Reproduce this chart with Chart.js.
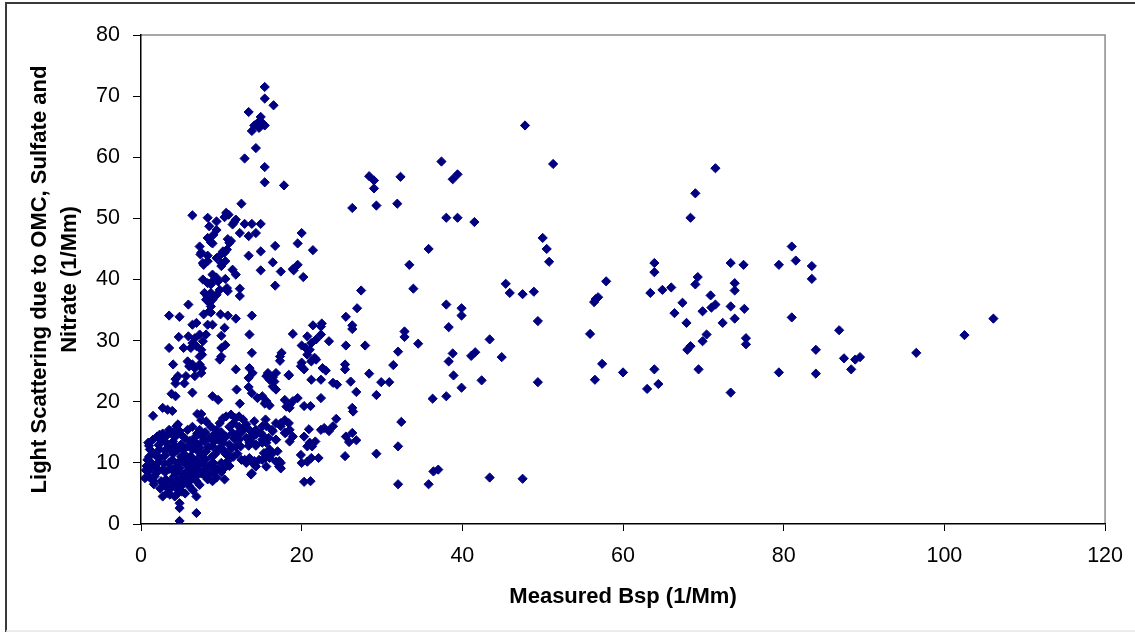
<!DOCTYPE html>
<html>
<head>
<meta charset="utf-8">
<title>Light scattering vs measured Bsp</title>
<script src="https://cdn.jsdelivr.net/npm/chart.js@4/dist/chart.umd.min.js"></script>
<style>
  html, body { margin: 0; padding: 0; background: #fff; }
  #chart { display: block; }
</style>
</head>
<body>
<canvas id="chart" width="1135" height="632"></canvas>
<script>
// [Measured Bsp, light scattering due to OMC + sulfate + nitrate], both in 1/Mm

// Right side, Bsp > 45
const highBsp = [
  [106.1,33.6],[102.5,30.9],[96.5,28.0],[89.5,27.3],[88.9,26.9],[88.4,25.3],[87.5,27.1],[86.9,31.7],
  [84.0,28.5],[84.0,24.6],[83.5,42.2],[83.5,40.1],[81.0,45.4],[81.5,43.1],[81.0,33.8],[79.4,42.4],
  [79.4,24.8],[75.0,42.4],[73.4,42.7],[73.9,39.4],[73.9,38.2],[75.1,35.2],[73.4,35.6],[73.9,33.6],
  [75.3,30.4],[75.3,29.4],[73.4,21.5],[72.4,32.9],[71.5,58.2],[71.5,35.9],[71.0,35.4],[70.9,37.4],
  [70.4,31.0],[69.9,34.8],[69.9,29.9],[69.4,25.3],[69.3,40.4],[69.0,39.2],[69.0,54.1],[68.4,50.1],
  [68.4,29.1],[68.0,28.5],[67.9,32.9],[67.4,36.2],[66.4,34.5],[66.0,38.7],[64.9,38.3],[63.9,42.7],
  [63.9,41.2],[63.4,37.8],[63.9,25.3],[64.4,22.9],[63.0,22.1],[60.0,24.8],[57.9,39.7],[57.4,26.2],
  [56.9,37.1],[56.6,36.8],[56.4,36.3],[56.5,23.6],[55.9,31.1],[51.3,58.9],[50.8,42.9],[50.5,45.0],
  [50.0,46.8],[49.4,33.2],[49.4,23.2],[48.9,38.0],[47.8,65.2],[47.5,37.6],[47.5,7.4],[45.9,37.8],
  [45.4,39.3]
];

// Bsp 25 - 45
const midBsp = [
  [44.9,27.3],[43.4,30.2],[43.4,7.6],[42.4,23.5],[41.5,49.4],[41.6,28.1],[41.1,27.5],[39.9,35.3],
  [39.9,34.1],[39.9,22.3],[39.4,57.2],[38.8,56.4],[39.4,50.1],[38.9,24.3],[38.8,27.9],[38.3,26.6],
  [38.3,32.2],[38.0,35.9],[38.0,50.1],[38.0,20.9],[37.4,59.3],[37.0,8.9],[36.4,8.6],[36.3,20.5],
  [35.8,45.0],[35.8,6.5],[34.5,29.5],[33.9,38.5],[33.4,42.4],[32.8,31.5],[32.8,30.6],[32.4,16.7],
  [32.3,56.8],[32.0,28.2],[32.0,12.7],[32.0,6.5],[31.9,52.4],[31.4,26.0],[30.9,23.2],[29.9,23.2],
  [29.3,52.1],[29.3,21.1],[29.3,11.5],[29.0,56.2],[28.4,56.9],[29.0,54.9],[28.4,24.6],[27.9,29.2],
  [27.4,38.2],[26.9,35.3],[26.8,21.6],[26.8,13.7],[26.3,51.7],[26.3,32.5],[26.3,31.9],[26.3,19.0],
  [26.4,18.4],[26.3,14.9],[25.9,13.4],[26.1,23.3],[25.5,33.9],[25.5,29.2],[25.4,26.1],[25.4,25.3],
  [25.5,14.3],[25.4,11.1]
];

// Bsp 14 - 25
const lowMidBsp = [
  [24.4,22.8],[23.9,23.1],[24.3,17.2],[23.9,16.0],[23.4,15.2],[22.8,15.7],[23.4,29.9],[23.0,25.1],
  [22.6,25.5],[22.4,23.6],[22.5,32.8],[22.4,32.3],[22.4,31.0],[22.4,20.6],[22.4,15.4],[21.4,32.5],
  [21.4,44.8],[21.8,30.2],[21.6,27.2],[21.8,26.9],[21.2,29.6],[21.0,28.5],[21.2,26.6],[21.2,23.6],
  [21.1,19.3],[21.7,13.5],[21.3,12.7],[22.1,10.8],[21.1,7.0],[20.7,10.2],[20.7,30.7],[20.5,28.8],
  [20.0,29.2],[20.7,27.7],[20.0,26.4],[19.9,25.8],[20.3,25.3],[20.0,47.6],[19.5,45.9],[20.2,40.4],
  [19.5,42.4],[19.0,41.5],[18.9,41.7],[18.9,31.1],[18.4,24.3],[20.3,19.3],[20.0,10.0],[21.2,10.8],
  [20.3,14.3],[21.0,13.3],[20.3,6.9],[20.9,15.5],[20.7,12.7],[19.9,11.3],[17.8,55.4],[17.3,27.4],
  [17.3,26.7],[17.5,28.0],[17.4,41.3],[16.4,42.8],[16.7,45.5],[16.7,39.0],[17.9,20.3],[18.1,19.2],
  [18.5,19.5],[18.9,20.1],[19.5,20.6],[18.5,19.0],[18.5,15.4],[18.9,14.3],[18.5,13.5],[17.9,14.9],
  [17.4,16.0],[16.8,16.5],[16.4,15.2],[18.0,14.9],[18.4,16.5],[17.4,16.5],[17.9,17.0],[17.4,10.0],
  [17.2,9.4],[16.8,10.2],[17.0,11.9],[17.4,9.1],[17.2,10.3],[16.8,13.8],[16.0,12.2],[16.4,11.6],
  [16.0,10.8],[15.6,11.3],[15.1,10.5],[15.6,9.4],[15.6,13.3],[15.1,14.6],[15.1,13.8],[15.6,16.0],
  [15.9,14.1],[15.3,11.6],[15.5,10.8],[15.5,17.1],[16.3,15.4],[15.6,24.2],[16.0,23.6],[16.4,24.0],
  [16.8,24.7],[16.6,23.3],[16.8,22.0],[16.4,22.5],[15.1,20.9],[15.6,20.1],[16.0,19.4],[15.4,19.7],
  [14.5,20.6],[15.8,24.7],[18.4,24.4]
];

// Upper-left spike, Bsp < 17 and scattering > 34
const spike = [
  [15.4,71.5],[15.4,69.6],[16.5,68.5],[13.4,67.4],[14.9,66.6],[14.5,65.6],[15.1,65.6],[15.4,65.2],
  [14.7,64.8],[14.1,65.2],[13.8,64.3],[14.3,61.5],[12.9,59.8],[15.4,58.4],[15.4,55.9],[12.5,52.4],
  [6.4,50.5],[10.6,50.9],[10.9,50.6],[10.4,50.2],[11.8,49.8],[11.4,49.0],[11.6,49.4],[12.9,49.1],
  [13.8,49.1],[14.9,49.1],[9.4,48.1],[9.0,47.3],[12.3,47.6],[13.4,47.1],[14.3,47.6],[8.3,46.8],
  [8.7,46.1],[8.9,45.9],[10.8,46.6],[11.2,46.3],[11.0,46.0],[10.7,44.9],[10.4,44.4],[9.8,43.9],
  [9.4,43.5],[10.2,44.6],[7.5,44.4],[8.3,43.9],[14.9,44.6],[13.4,43.9],[7.7,42.7],[8.3,43.0],
  [10.0,42.7],[10.5,43.0],[10.0,42.2],[14.9,41.5],[11.4,41.6],[11.8,40.8],[9.4,40.3],[8.9,39.7],
  [8.7,39.2],[9.6,39.7],[10.5,40.1],[10.7,38.6],[10.8,38.1],[12.3,38.5],[12.3,37.3],[7.9,37.8],
  [8.3,37.2],[8.7,37.8],[8.1,36.7],[8.5,36.2],[8.9,36.7],[9.4,37.5],[8.7,35.6],[8.5,34.8],
  [5.9,35.9],[8.3,50.1],[9.4,49.5],[8.5,48.7],[7.3,45.4],[7.4,44.1],[7.8,42.4],[8.9,40.8],
  [7.7,40.0],[8.3,39.4],[9.8,38.3]
];

// Bsp < 15, scattering 17 - 35
const leftMiddle = [
  [3.5,34.1],[4.8,33.9],[7.8,34.3],[8.7,34.6],[9.9,34.3],[10.8,34.1],[11.8,33.6],[13.8,34.1],
  [6.4,32.6],[6.9,32.9],[8.3,32.6],[8.9,32.6],[10.4,32.1],[4.7,30.6],[5.9,30.7],[6.7,30.4],
  [7.3,31.0],[8.1,31.0],[7.7,29.9],[6.9,29.1],[6.4,29.6],[6.2,28.8],[10.0,30.8],[10.5,29.3],
  [10.0,28.8],[13.5,31.0],[3.5,28.8],[5.3,28.8],[7.5,28.5],[7.3,27.4],[7.6,27.7],[13.8,28.0],
  [4.0,26.1],[5.8,26.6],[6.0,25.8],[6.4,26.1],[6.7,25.5],[7.6,25.5],[7.3,26.1],[10.0,27.4],
  [9.8,26.9],[11.8,25.3],[13.5,25.5],[13.9,24.7],[13.4,23.9],[4.6,24.2],[5.6,24.2],[6.7,24.2],
  [7.5,24.7],[4.3,23.7],[5.4,23.0],[4.3,23.0],[6.4,21.5],[3.8,21.3],[4.3,20.9],[8.9,20.9],
  [9.6,20.3],[2.7,19.0],[3.3,18.7],[3.9,18.5],[1.5,17.7],[11.9,22.0],[12.3,19.7],[13.4,22.4],
  [13.8,21.4],[7.0,18.0],[7.5,17.0],[4.4,16.0],[4.8,15.2]
];

// Dense cluster near the origin
const lowCluster = [
  [4.8,0.5],[4.8,3.4],[4.8,2.6],[6.9,1.8],[6.9,4.5],[2.7,4.5],[3.3,5.1],[0.9,8.6],[1.1,7.6],
  [1.7,7.8],[1.5,7.1],[0.7,9.5],[1.3,10.0],[0.9,13.3],[1.5,13.8],[2.0,14.3],[2.3,14.6],[2.7,14.8],
  [3.3,14.6],[1.1,12.2],[1.7,11.4],[2.3,12.2],[2.3,10.8],[2.7,8.9],[3.1,7.3],[3.1,6.2],[3.5,5.6],
  [3.7,7.0],[4.1,7.8],[4.4,6.7],[4.6,5.6],[5.0,6.2],[5.4,7.0],[5.2,8.1],[5.8,7.8],[6.2,7.3],
  [6.0,6.2],[6.4,8.9],[6.9,7.8],[7.3,6.4],[6.9,7.0],[3.5,10.0],[3.9,10.5],[4.6,10.0],[5.2,10.3],
  [4.8,9.1],[5.6,9.7],[6.0,10.5],[3.9,8.9],[4.4,9.4],[6.2,9.7],[6.9,10.5],[7.7,10.0],[8.1,9.1],
  [8.5,8.1],[7.5,8.3],[8.3,7.3],[9.4,7.6],[10.4,7.3],[8.9,7.0],[7.9,8.6],[4.6,16.3],[5.8,15.4],
  [6.4,15.9],[7.3,15.4],[7.5,18.0],[8.1,16.8],[8.7,15.9],[9.4,15.4],[9.8,16.5],[10.2,17.3],
  [10.6,17.6],[11.2,17.9],[11.8,17.3],[12.2,17.6],[12.7,17.1],[13.1,16.3],[13.5,15.4],[13.9,14.6],
  [14.3,15.4],[14.9,14.9],[15.1,16.0],[14.1,16.8],[12.2,15.9],[11.0,15.9],[11.4,14.9],[10.6,14.3],
  [9.6,13.8],[10.2,13.3],[8.9,12.7],[8.5,14.1],[7.9,13.5],[7.1,13.0],[6.4,12.2],[5.8,12.7],
  [5.4,11.4],[6.2,11.1],[7.1,11.9],[8.1,11.9],[9.2,11.4],[9.8,12.4],[11.0,13.0],[11.8,12.7],
  [12.2,13.8],[13.1,14.1],[13.5,13.3],[14.3,13.0],[15.1,13.3],[16.8,13.8],[10.0,10.0],[10.8,10.3],
  [12.5,10.5],[13.5,10.8],[13.7,8.1],[14.1,10.3],[14.7,10.5],[12.9,10.5],[13.1,10.0],[13.9,10.0],
  [14.3,9.4],[13.8,8.3],[13.4,12.8],[13.8,13.3],[14.3,12.8],[14.3,14.6],[13.9,14.3],[13.5,13.8],
  [2.0,9.0],[2.5,7.0],[3.0,8.5],[3.5,9.0],[4.0,11.5],[4.5,12.0],[5.0,13.0],[5.5,14.0],[6.5,13.5],
  [7.5,14.5],[8.0,15.0],[9.0,14.5],[10.0,15.0],[11.5,16.5],[12.5,15.0],[7.0,9.0],[8.0,10.5],
  [9.0,10.0],[9.5,9.0],[10.5,11.5],[11.5,11.0],[12.0,11.5],[3.0,12.0],[4.0,13.5],[2.0,11.0],
  [1.0,11.0],[4.2,4.5],[5.5,5.0],[6.5,5.5],[3.8,6.0],[1.8,9.5],[5.8,8.7],[7.3,12.5],[9.0,8.5],
  [10.0,8.5],[11.0,9.5],[6.8,14.3],[4.0,15.0],[3.0,13.5],[5.0,11.0]
];

// Solid core of the cluster (marks overlap heavily here)
const clusterCore = [
  [0.5,7.5],[0.6,8.8],[0.8,10.5],[1.0,12.8],[1.3,9.2],[1.6,6.5],[1.9,8.3],[2.1,10.0],[2.2,12.9],
  [2.6,13.6],[2.4,5.8],[2.8,6.6],[2.9,9.9],[3.0,11.2],[3.4,12.6],[3.6,4.8],[3.8,11.9],[4.2,12.7],
  [4.3,8.3],[4.5,4.9],[4.9,7.4],[5.1,5.3],[5.3,12.2],[5.6,10.9],[5.9,6.8],[6.1,13.6],[6.3,8.4],
  [6.6,10.0],[6.7,12.6],[7.0,14.8],[7.2,9.6],[7.6,11.2],[7.8,13.7],[8.0,7.8],[8.4,12.6],[8.6,9.6],
  [8.8,11.0],[9.1,13.5],[9.3,9.0],[9.5,11.9],[9.9,14.5],[10.3,12.1],[10.5,9.3],[10.9,11.3],
  [11.3,12.4],[11.6,14.0],[12.0,14.8],[12.4,12.7],[12.8,15.6],[4.2,14.2],[5.0,14.6],[3.5,15.4]
];

const xTicks = [0, 20, 40, 60, 80, 100, 120];
const yTicks = [0, 10, 20, 30, 40, 50, 60, 70, 80];

const points = [].concat(highBsp, midBsp, lowMidBsp, spike, leftMiddle, lowCluster, clusterCore)
  .map(p => ({ x: p[0], y: p[1] }));

const navy = '#000080';
const fontFamily = "'Liberation Sans', Arial, sans-serif";

// outer frame + grey top/right edge of the plot area
const framePlugin = {
  id: 'frame',
  beforeDraw(chart) {
    const ctx = chart.ctx;
    const a = chart.chartArea;
    ctx.save();
    ctx.fillStyle = '#fff';
    ctx.fillRect(0, 0, chart.width, chart.height);
    ctx.strokeStyle = '#3a3a3a';
    ctx.lineWidth = 2;
    ctx.beginPath();
    ctx.moveTo(6, chart.height);
    ctx.lineTo(6, 3);
    ctx.lineTo(chart.width, 3);
    ctx.stroke();
    ctx.strokeStyle = '#e4e4e4';
    ctx.lineWidth = 1.5;
    ctx.beginPath();
    ctx.moveTo(6, chart.height - 1);
    ctx.lineTo(chart.width, chart.height - 1);
    ctx.stroke();
    ctx.strokeStyle = '#8a8a8a';
    ctx.lineWidth = 1.5;
    ctx.beginPath();
    ctx.moveTo(a.left, a.top);
    ctx.lineTo(a.right, a.top);
    ctx.lineTo(a.right, a.bottom);
    ctx.stroke();
    ctx.restore();
  }
};

Chart.defaults.font.family = fontFamily;
Chart.defaults.color = '#000';

new Chart(document.getElementById('chart').getContext('2d'), {
  type: 'scatter',
  data: {
    datasets: [{
      label: 'OMC + Sulfate + Nitrate',
      data: points,
      pointStyle: 'rectRot',
      pointRadius: 4.6,
      borderWidth: 1,
      backgroundColor: navy,
      borderColor: navy
    }]
  },
  options: {
    responsive: false,
    animation: false,
    devicePixelRatio: 1,
    layout: { padding: { left: 0, top: 35, right: 29, bottom: 0 } },
    plugins: {
      legend: { display: false },
      tooltip: { enabled: false }
    },
    scales: {
      x: {
        type: 'linear',
        min: 0,
        max: 120,
        afterBuildTicks: s => { s.ticks = xTicks.map(v => ({ value: v })); },
        afterFit: s => { s.height = 108; },
        ticks: { font: { size: 21.5 }, color: '#000', padding: 12, maxRotation: 0 },
        grid: { drawOnChartArea: false, drawTicks: true, tickLength: 7, color: '#000' },
        border: { display: true, color: '#000', width: 1.5 },
        title: {
          display: true,
          text: 'Measured Bsp (1/Mm)',
          font: { size: 22, weight: 'bold' },
          color: '#000',
          padding: { top: 0, bottom: 22 }
        }
      },
      y: {
        type: 'linear',
        min: 0,
        max: 80,
        afterBuildTicks: s => { s.ticks = yTicks.map(v => ({ value: v })); },
        afterFit: s => { s.width = 141; },
        ticks: { font: { size: 21.5 }, color: '#000', padding: 13 },
        grid: { drawOnChartArea: false, drawTicks: true, tickLength: 8, color: '#000' },
        border: { display: true, color: '#000', width: 1.5 },
        title: {
          display: true,
          text: ['Light Scattering due to OMC, Sulfate and', 'Nitrate (1/Mm)'],
          font: { size: 22, weight: 'bold', lineHeight: 1.36 },
          color: '#000',
          padding: { top: 25, bottom: 0 }
        }
      }
    }
  },
  plugins: [framePlugin]
});
</script>
</body>
</html>
